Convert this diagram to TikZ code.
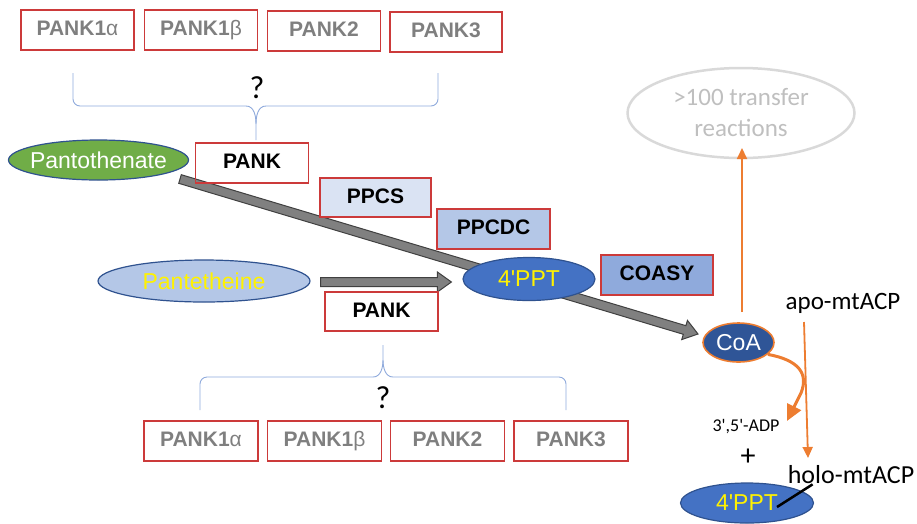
\documentclass[tikz,border=0pt]{standalone}
\usepackage{fontspec}
\setmainfont{Liberation Sans}
\newfontfamily\arial{Liberation Sans}
\newfontfamily\calibri{Carlito}
\usetikzlibrary{calc}
\usetikzlibrary{arrows.meta}
\usetikzlibrary{backgrounds}
\usetikzlibrary{shapes.geometric}

\definecolor{boxred}{HTML}{CC3A3A}
\definecolor{isogray}{HTML}{7F7F7F}
\definecolor{metblue}{HTML}{2F528F}
\definecolor{bracelue}{HTML}{8FAADC}
\definecolor{pantogreen}{HTML}{70AD47}
\definecolor{paleblue}{HTML}{DAE3F3}
\definecolor{lightblue}{HTML}{B4C7E7}
\definecolor{midblue}{HTML}{8FAADC}
\definecolor{pptblue}{HTML}{4472C4}
\definecolor{coablue}{HTML}{2F5597}
\definecolor{flowor}{HTML}{ED7D31}
\definecolor{shaftgray}{HTML}{808080}
\definecolor{shaftedge}{HTML}{404040}

% thick grey reaction arrow: #1 = start, #2 = tip
\newcommand{\fatarrow}[2]{%
  \coordinate (fa-base) at ($(#2)!14pt!(#1)$);
  \filldraw[fill=shaftgray,draw=shaftedge,line width=1pt]
    ($(#1)!4.5pt!90:(#2)$) -- ($(fa-base)!4.5pt!-90:(#1)$)
    -- ($(fa-base)!10pt!-90:(#1)$) -- (#2)
    -- ($(fa-base)!10pt!90:(#1)$) -- ($(fa-base)!4.5pt!90:(#1)$)
    -- ($(#1)!4.5pt!-90:(#2)$) -- cycle;}

\begin{document}
\begin{tikzpicture}[x=1pt,y=-1pt,
     iso/.style={draw=boxred,line width=1.2pt,minimum width=113pt,minimum height=40pt,
       inner sep=0pt,text height=15pt,text depth=4pt,text=isogray,
       font=\arial\fontsize{21}{23}\selectfont\bfseries},
     enz/.style={iso,text=black},
     met/.style={ellipse,draw=metblue,line width=1.2pt,inner sep=0pt,
       minimum height=40pt,font=\arial\fontsize{23}{25}\selectfont},
     brace/.style={draw=bracelue,line width=0.9pt},
     cal/.style={inner sep=0pt,font=\calibri\fontsize{25}{31}\selectfont},
     flow/.style={draw=flowor,line width=1.8pt,-{Triangle[length=11pt,width=10pt]}}
   ]
   \path[use as bounding box] (0,0) rectangle (917,523);
   % Isoforms, top.
   \node[iso] (ta) at (77.5,30) {PANK1{\mdseries α}};
   \node[iso] (tb) at (201,30) {PANK1{\mdseries β}};
   \node[iso] (tc) at (324,31) {PANK2};
   \node[iso,minimum width=112pt] (td) at (446,32) {PANK3};
   \node[cal,font=\calibri\fontsize{32}{34}\selectfont] (tq) at (257,88) {?};
   \draw[brace] (73,73) -- (73,99) to[out=-90,in=180] (80,106) -- (246,106)
     to[out=0,in=90] (256,124) -- (256,140);
   \draw[brace] (438,73) -- (438,99) to[out=-90,in=0] (431,106) -- (266,106)
     to[out=180,in=90] (256,124);
   % Metabolites and enzymes.
   \node[met,fill=pantogreen,text=white,minimum width=180pt,inner xsep=-6pt] (panto) at (98.5,160) {Pantothenate};
   \node[enz] (pank) at (252,163) {PANK};
   \node[enz,fill=paleblue,minimum width=111pt,minimum height=39pt] (ppcs) at (375.5,197.5) {PPCS};
   \node[enz,fill=lightblue] (ppcdc) at (493.5,229) {PPCDC};
   \node[met,fill=lightblue,text=yellow,minimum width=212pt,minimum height=42pt] (pantet) at (204,281) {Pantetheine};
   \node[met,fill=pptblue,text=yellow,minimum width=132pt,minimum height=43pt] (ppt) at (529,279) {4'PPT};
   \node[enz,fill=midblue,minimum width=112pt] (coasy) at (657,275) {COASY};
   \node[enz,minimum height=39pt] (pankb) at (381.5,311.5) {PANK};
   \node[met,fill=coablue,draw=flowor,line width=1.6pt,text=white,minimum width=71pt,minimum height=39pt] (coa) at (738.5,342.5) {CoA};
   % Isoforms, bottom.
   \draw[brace] (200,410) -- (200,384) to[out=90,in=180] (207,377) -- (373,377)
     to[out=0,in=-90] (383,360) -- (383,345);
   \draw[brace] (566,410) -- (566,384) to[out=90,in=0] (559,377) -- (393,377)
     to[out=180,in=-90] (383,360);
   \node[cal,font=\calibri\fontsize{32}{34}\selectfont] (bq) at (383,398) {?};
   \node[iso,minimum width=114pt] (ba) at (201,441) {PANK1{\mdseries α}};
   \node[iso,minimum width=114pt] (bb) at (324.5,441) {PANK1{\mdseries β}};
   \node[iso,minimum width=114pt] (bc) at (447.5,441) {PANK2};
   \node[iso,minimum width=114pt] (bd) at (571,441) {PANK3};
   % Reaction arrows.
   \begin{scope}[on background layer]
     \coordinate (pantoout) at (180,179);
     \coordinate (coain) at (698,334);
     \fatarrow{pantoout}{coain}
     \coordinate (pantetout) at ($(pantet.east)+(10,1)$);
     \coordinate (pptin) at ($(ppt.west)+(-11,3)$);
     \fatarrow{pantetout}{pptin}
   \end{scope}
   % CoA fates.
   \node[ellipse,draw=black!15,line width=2.5pt,minimum width=227pt,minimum height=90pt,
     cal,text=black!25,align=center] (trans) at (741,113) {>100 transfer\\reactions};
   \coordinate (coaup) at (742,312);
   \coordinate (transin) at (742,148);
   \draw[flow] (coaup) -- (transin);
   \node[cal] (apo) at (843,303) {apo-mtACP};
   \node[cal,font=\calibri\fontsize{18}{20}\selectfont] (adp) at (746,427) {3',5'-ADP};
   \node[cal,font=\calibri\fontsize{30}{32}\selectfont] (plus) at (748,457) {+};
   \node[cal,font=\calibri\fontsize{26}{30}\selectfont] (holo) at (851,475) {holo-mtACP};
   \node[met,fill=pptblue,text=yellow,minimum width=133pt] (pptb) at (747,503) {4'PPT};
   \coordinate (apoout) at (804,322);
   \coordinate (holoin) at (808,458);
   \draw[flow] (apoout) -- (holoin);
   \coordinate (adpin) at (787,421);
   \draw[draw=flowor,line width=3pt,-{Triangle[length=16pt,width=15pt]}]
     (coa.-22) .. controls (798,360) and (809,373) .. (801,393) -- (adpin);
   \coordinate (linkend) at (777,507);
   \draw[line width=2.5pt] (linkend) -- ($(holo.south west)+(25,0)$);
 \end{tikzpicture}
\end{document}
